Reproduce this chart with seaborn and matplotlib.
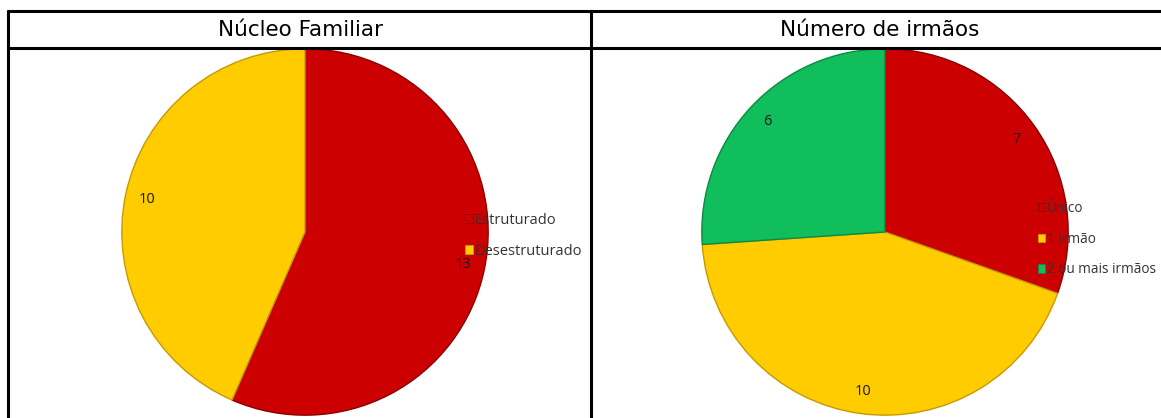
import matplotlib
matplotlib.use("Agg")
import matplotlib.pyplot as plt
from matplotlib.lines import Line2D
from matplotlib.patches import Patch
import seaborn as sns

# data
nucleo_labels = ["Estruturado", "Desestruturado"]
nucleo_values = [13, 10]
irmaos_labels = ["Único", "1 irmão", "2 ou mais irmãos"]
irmaos_values = [7, 10, 6]

titles = ["Núcleo Familiar", "Número de irmãos"]
red, yellow, green = "#cc0000", "#ffcc00", "#10bf5c"
edge = {"#cc0000": "#8a0000", "#ffcc00": "#c79a00", "#10bf5c": "#0a8a42"}

sns.set_theme(style="white")
plt.rcParams["font.family"] = ["DejaVu Sans"]

W, H = 1161, 418
fig = plt.figure(figsize=(W / 100, H / 100), dpi=100)


def px(x, y):
    # pixel (from top-left) -> figure coords
    return x / W, 1 - y / H


def hline(x0, x1, y, lw=2.2):
    fig.add_artist(Line2D([x0 / W, x1 / W], [1 - y / H, 1 - y / H],
                          color="black", lw=lw, transform=fig.transFigure))


def vline(x, y0, y1, lw=2.2):
    fig.add_artist(Line2D([x / W, x / W], [1 - y0 / H, 1 - y1 / H],
                          color="black", lw=lw, transform=fig.transFigure))


def draw_pie(cx, cy, r, values, labels, colors, legend_xy, gap, lsize):
    ax = fig.add_axes([(cx - r) / W, 1 - (cy + r) / H, 2 * r / W, 2 * r / H])
    wedges, texts = ax.pie(
        values, colors=colors, startangle=90, counterclock=False,
        labels=[str(v) for v in values], labeldistance=0.88,
        wedgeprops=dict(linewidth=1.0),
        textprops=dict(fontsize=10.5, color="#1a1a1a", family="Open Sans"),
    )
    for w, c in zip(wedges, colors):
        w.set_edgecolor(edge[c])
    for t in texts:
        t.set_ha("center")
        t.set_va("center")
    ax.set_xlim(-1.01, 1.01)
    ax.set_ylim(-1.01, 1.01)
    ax.set_aspect("equal")
    ax.axis("off")
    handles = [Patch(facecolor=c, edgecolor=edge[c], linewidth=0.6)
               for c in colors]
    lx, ly = px(*legend_xy)
    leg = ax.legend(handles, labels, loc="upper left", bbox_to_anchor=(lx, ly),
                    bbox_transform=fig.transFigure, frameon=False,
                    prop=dict(family="Open Sans", size=lsize),
                    handlelength=0.55, handleheight=0.55, handletextpad=0.1,
                    labelspacing=gap, borderpad=0, borderaxespad=0)
    for t in leg.get_texts():
        t.set_color("#333333")
    leg.set_zorder(10)
    return ax


draw_pie(305, 232, 185, nucleo_values, nucleo_labels, [red, yellow],
         (465, 213), 1.1, 10.5)
draw_pie(885, 232, 185, irmaos_values, irmaos_labels, [red, yellow, green],
         (1038, 201), 1.15, 9.8)

# table frame
hline(8, W, 11)
hline(8, W, 48)
vline(8, 11, H)
vline(591, 11, H)

fig.text(*px(300, 30), titles[0], ha="center", va="center", fontsize=15.5,
         color="black")
fig.text(*px(880, 30), titles[1], ha="center", va="center", fontsize=15.5,
         color="black")

fig.savefig("out.png", dpi=100, facecolor="white")
